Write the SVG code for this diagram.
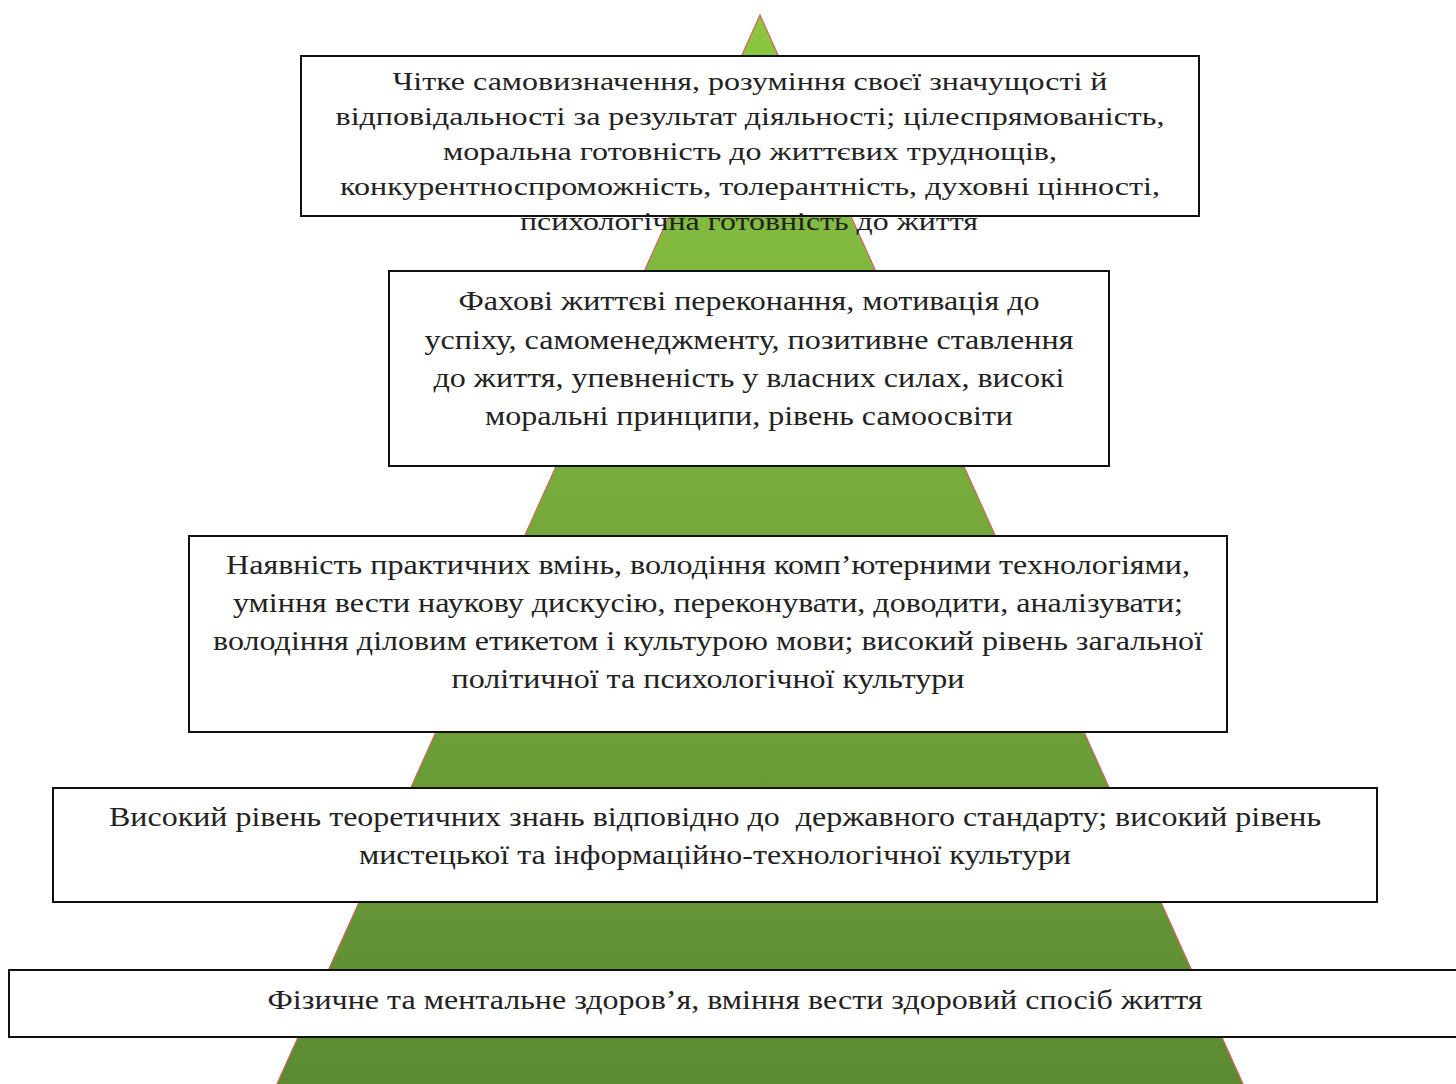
<svg xmlns="http://www.w3.org/2000/svg" width="1456" height="1084" viewBox="0 0 1456 1084">
<style>
.box{fill:#fff;stroke:#111;stroke-width:2}
.t{font-family:"Liberation Serif","Times New Roman",serif;fill:#222;text-anchor:middle}
.s1{font-size:26px}
.s2{font-size:28px}
.s3{font-size:27px}
</style>
<defs>
<linearGradient id="g" x1="0" y1="15" x2="0" y2="1084" gradientUnits="userSpaceOnUse">
<stop offset="0" stop-color="#8cc743"/>
<stop offset="1" stop-color="#5c8a33"/>
</linearGradient>
</defs>
<rect width="1456" height="1084" fill="#fff"/>
<polygon id="pyramid" points="760,15 276,1086 1244,1086" fill="url(#g)" stroke="#d0645a" stroke-width="1.2"/>
<g id="connectors"/>
<g id="level5">
<rect class="box" x="9" y="970" width="1460" height="67"/>
<text class="t s3" x="735" y="1009" textLength="935" lengthAdjust="spacingAndGlyphs">Фізичне та ментальне здоров’я, вміння вести здоровий спосіб життя</text>
</g>
<g id="level4">
<rect class="box" x="53" y="788" width="1324" height="114"/>
<text class="t s3" x="715" y="826" textLength="1212" lengthAdjust="spacingAndGlyphs" xml:space="preserve">Високий рівень теоретичних знань відповідно до  державного стандарту; високий рівень</text>
<text class="t s3" x="715" y="864" textLength="712" lengthAdjust="spacingAndGlyphs">мистецької та інформаційно-технологічної культури</text>
</g>
<g id="level3">
<rect class="box" x="189" y="536" width="1038" height="196"/>
<text class="t s3" x="708" y="574" textLength="964" lengthAdjust="spacingAndGlyphs">Наявність практичних вмінь, володіння комп’ютерними технологіями,</text>
<text class="t s3" x="708" y="612" textLength="950" lengthAdjust="spacingAndGlyphs">уміння вести наукову дискусію, переконувати, доводити, аналізувати;</text>
<text class="t s3" x="708" y="650" textLength="990" lengthAdjust="spacingAndGlyphs">володіння діловим етикетом і культурою мови; високий рівень загальної</text>
<text class="t s3" x="708" y="688" textLength="513" lengthAdjust="spacingAndGlyphs">політичної та психологічної культури</text>
</g>
<g id="level2">
<rect class="box" x="389" y="271" width="720" height="195"/>
<text class="t s2" x="749" y="310" textLength="581" lengthAdjust="spacingAndGlyphs">Фахові життєві переконання, мотивація до</text>
<text class="t s2" x="749" y="349" textLength="649" lengthAdjust="spacingAndGlyphs">успіху, самоменеджменту, позитивне ставлення</text>
<text class="t s2" x="749" y="387" textLength="631" lengthAdjust="spacingAndGlyphs">до життя, упевненість у власних силах, високі</text>
<text class="t s2" x="749" y="425" textLength="528" lengthAdjust="spacingAndGlyphs">моральні принципи, рівень самоосвіти</text>
</g>
<g id="level1">
<rect class="box" x="301" y="56" width="898" height="160"/>
<text class="t s1" x="750" y="90" textLength="715" lengthAdjust="spacingAndGlyphs">Чітке самовизначення, розуміння своєї значущості й</text>
<text class="t s1" x="750" y="125" textLength="829" lengthAdjust="spacingAndGlyphs">відповідальності за результат діяльності; цілеспрямованість,</text>
<text class="t s1" x="750" y="160" textLength="614" lengthAdjust="spacingAndGlyphs">моральна готовність до життєвих труднощів,</text>
<text class="t s1" x="750" y="195" textLength="820" lengthAdjust="spacingAndGlyphs">конкурентноспроможність, толерантність, духовні цінності,</text>
<text class="t s1" x="749" y="230" textLength="458" lengthAdjust="spacingAndGlyphs">психологічна готовність до життя</text>
</g>
</svg>
